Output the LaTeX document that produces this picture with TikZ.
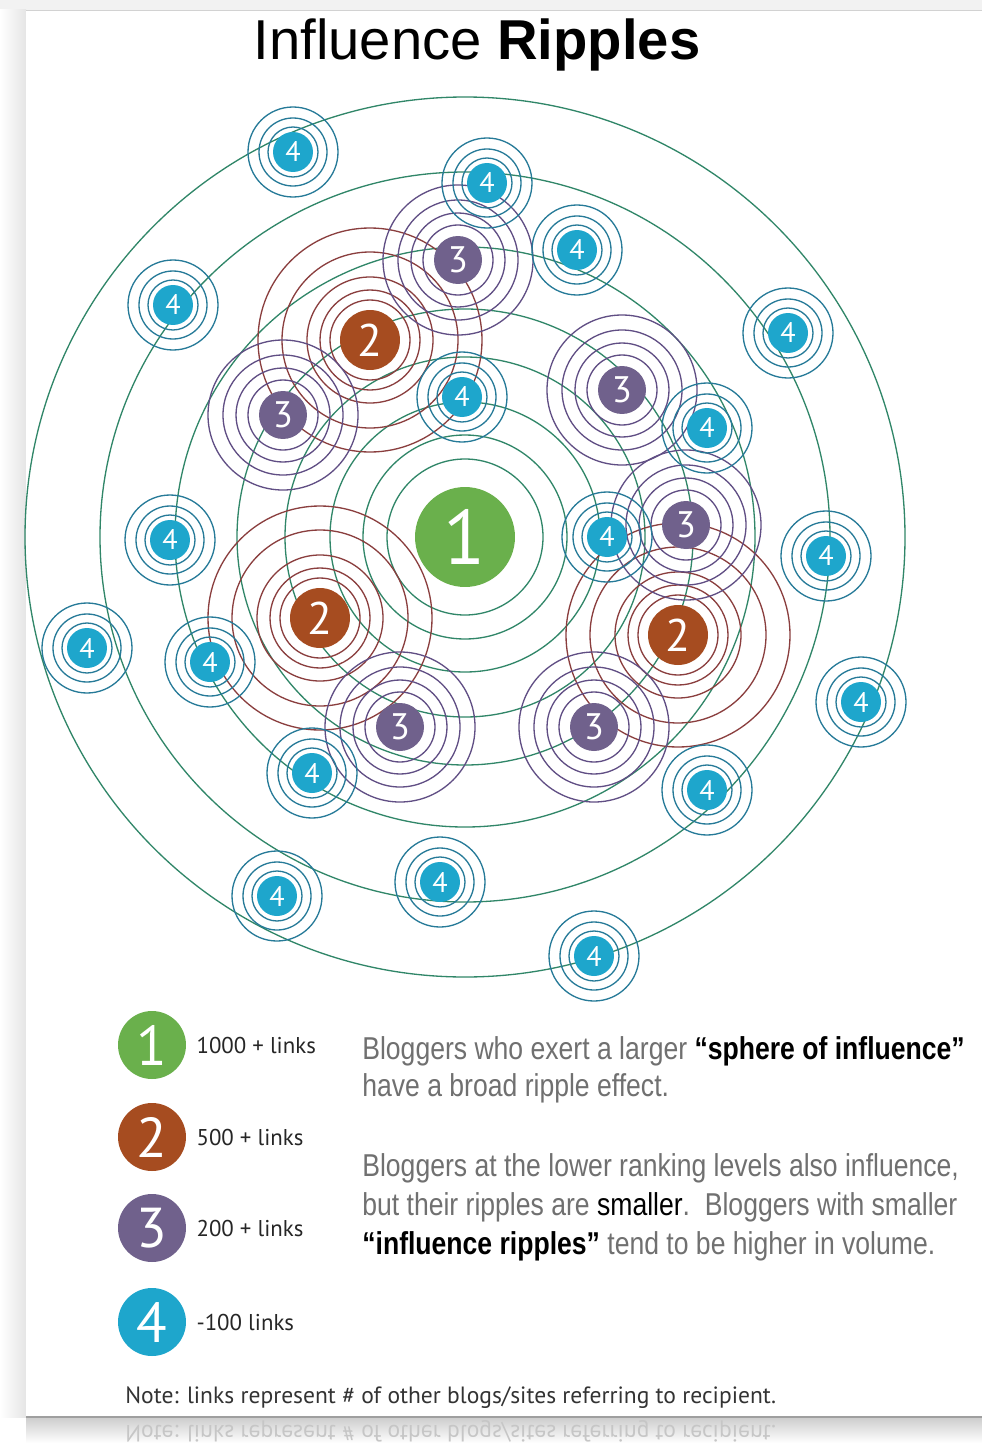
\documentclass[tikz,border=0pt]{standalone}
\usepackage{fontspec}
\setmainfont{Liberation Sans}
\newfontfamily\condfont[FakeStretch=0.84]{Liberation Sans}
\newfontfamily\digitfont{PT Sans}
\usetikzlibrary{positioning}
\definecolor{ring green}{RGB}{48,134,104}
\definecolor{ring brown}{RGB}{138,62,62}
\definecolor{ring purple}{RGB}{96,78,132}
\definecolor{ring cyan}{RGB}{38,122,152}
\definecolor{disk green}{RGB}{106,176,76}
\definecolor{disk brown}{RGB}{166,76,32}
\definecolor{disk purple}{RGB}{112,97,140}
\definecolor{disk cyan}{RGB}{30,166,204}
\definecolor{para gray}{RGB}{112,112,112}
\tikzstyle{disk} = [circle, inner sep=0pt, text=white]
\tikzset{rank one/.style={disk, fill=disk green, minimum size=2cm, font=\digitfont\fontsize{44}{44}\selectfont},
    rank two/.style={disk, fill=disk brown, minimum size=1.2cm, font=\digitfont\fontsize{26}{26}\selectfont},
    rank three/.style={disk, fill=disk purple, minimum size=0.96cm, font=\digitfont\fontsize{21}{21}\selectfont},
    rank four/.style={disk, fill=disk cyan, minimum size=0.8cm, font=\digitfont\fontsize{16}{16}\selectfont},
    key disk/.style={minimum size=1.36cm, font=\digitfont\fontsize{32}{32}\selectfont},
    key text/.style={right=0.08cm of #1, font=\digitfont\fontsize{13}{15}\selectfont, text=black!85},
    ring one/.style={draw=ring green, line width=0.75pt},
    ring two/.style={draw=ring brown, line width=0.75pt},
    ring three/.style={draw=ring purple, line width=0.75pt},
    ring four/.style={draw=ring cyan, line width=0.75pt},
    para/.style={anchor=base west, inner sep=0pt, font=\condfont\fontsize{18}{22}\selectfont, text=para gray},
    note/.style={anchor=base west, inner sep=0pt, font=\digitfont\fontsize{13.4}{15}\selectfont}}

\begin{document}
\begin{tikzpicture}[x=0.02cm, y=-0.02cm]
    % page and its shadow
    \useasboundingbox (0,0) rectangle (982,1443);
    \fill[gray!10] (0,0) rectangle (982,10);
    \shade[left color=white, right color=gray!20] (0,10) rectangle (26,1417);
    \fill[white] (26,10) rectangle (982,1417);
    \draw[gray!35] (26,10) -- (982,10);
    \shade[top color=gray!40, bottom color=white] (26,1417) rectangle (982,1443);
    \draw[gray!75, line width=1.2pt] (26,1417) -- (982,1417);

    \node[anchor=base, font=\fontsize{32}{38}\selectfont] (title) at (477,60) {Influence \textbf{Ripples}};

    % ripples of rank 1
    \coordinate (c1) at (465,537);
    \foreach \r in {78,102,135,180,228,290,365,440}
        \draw[ring one] (c1) circle (\r);
    % ripples of rank 2
    \foreach \n/\x/\y in {a/370/340, b/320/618, c/678/635} {
        \coordinate (c2\n) at (\x,\y);
        \foreach \r in {40,50,63,88,112}
            \draw[ring two] (c2\n) circle (\r);
    }
    % ripples of rank 3
    \foreach \n/\x/\y in {a/458/260, b/283/415, c/622/390, d/686/525, e/400/727, f/594/727} {
        \coordinate (c3\n) at (\x,\y);
        \foreach \r in {35,47,60,75}
            \draw[ring three] (c3\n) circle (\r);
    }
    % ripples of rank 4
    \foreach \n/\x/\y in {a/293/152, b/487/183, c/577/250, d/173/305, e/788/333, f/462/397,
        g/707/428, h/170/540, i/607/537, j/826/556, k/87/648, l/210/662,
        m/861/702, n/312/773, o/707/790, p/277/896, q/440/882, r/594/956} {
        \coordinate (c4\n) at (\x,\y);
        \foreach \r in {25,34,45}
            \draw[ring four] (c4\n) circle (\r);
    }

    % the bloggers
    \node[rank one] (n1) at (c1) {1};
    \foreach \n in {a,b,c}
        \node[rank two] (n2\n) at (c2\n) {2};
    \foreach \n in {a,...,f}
        \node[rank three] (n3\n) at (c3\n) {3};
    \foreach \n in {a,...,r}
        \node[rank four] (n4\n) at (c4\n) {4};

    % key
    \node[rank one, key disk] (key1) at (152,1045) {1};
    \node[rank two, key disk] (key2) at (152,1137) {2};
    \node[rank three, key disk] (key3) at (152,1228) {3};
    \node[rank four, key disk] (key4) at (152,1322) {4};
    \node[key text=key1] (links1) {1000 + links};
    \node[key text=key2] (links2) {500 + links};
    \node[key text=key3] (links3) {200 + links};
    \node[key text=key4] (links4) {-100 links};

    \node[para] (line1) at (362,1059) {Bloggers who exert a larger \textcolor{black}{\bfseries “sphere of influence”}};
    \node[para] (line2) at (362,1096) {have a broad ripple effect.};
    \node[para] (line3) at (362,1176) {Bloggers at the lower ranking levels also influence,};
    \node[para] (line4) at (362,1215) {but their ripples are \textcolor{black}{smaller}.\ \ Bloggers with smaller};
    \node[para] (line5) at (362,1254) {\textcolor{black}{\bfseries “influence ripples”} tend to be higher in volume.};

    \node[note, text=black!80] (note) at (125,1403)
        {Note: links represent \# of other blogs/sites referring to recipient.};
    \node[note, yscale=-1, transform shape, text=gray!45] (note echo) at (125,1425)
        {Note: links represent \# of other blogs/sites referring to recipient.};
\end{tikzpicture}
\end{document}
